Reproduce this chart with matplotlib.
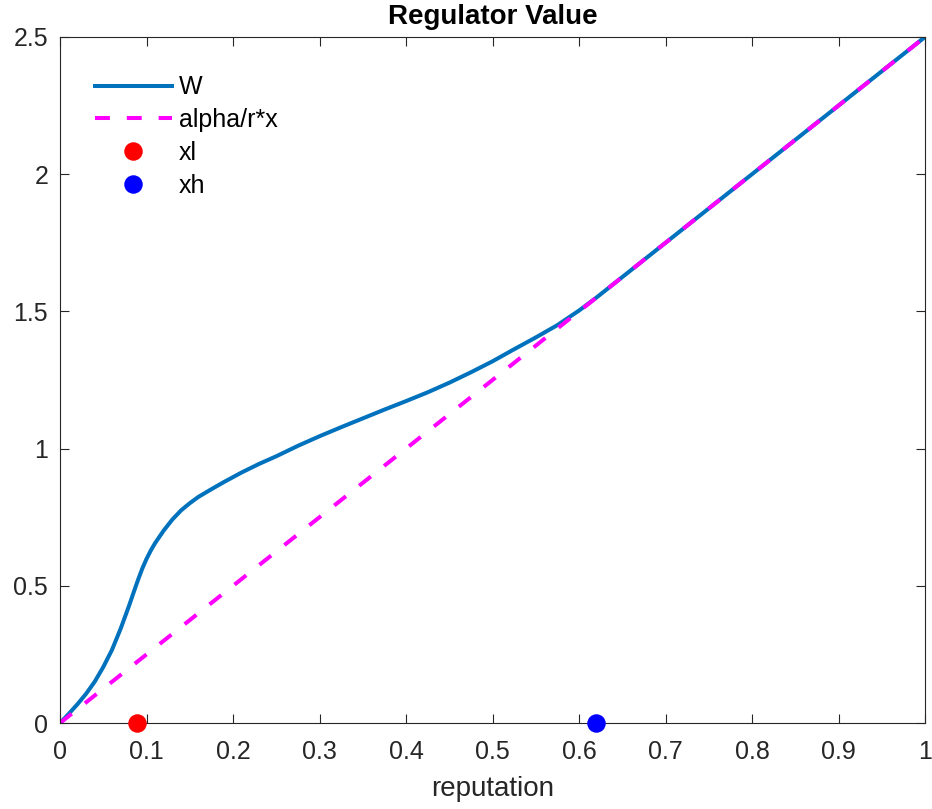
import numpy as np
import matplotlib
matplotlib.use('Agg')
import matplotlib.pyplot as plt

rep = [0, 0.01, 0.02, 0.03, 0.04, 0.05, 0.06, 0.07, 0.08, 0.085, 0.09, 0.095,
       0.10, 0.105, 0.11, 0.12, 0.13, 0.14, 0.15, 0.16, 0.175, 0.19, 0.21,
       0.23, 0.25, 0.275, 0.30, 0.325, 0.35, 0.375, 0.40, 0.425, 0.45, 0.475,
       0.50, 0.525, 0.55, 0.575, 0.60, 0.62, 1.0]
W = [0, 0.033, 0.068, 0.106, 0.150, 0.204, 0.266, 0.343, 0.429, 0.475, 0.520,
     0.562, 0.598, 0.629, 0.656, 0.702, 0.742, 0.775, 0.801, 0.824, 0.852,
     0.879, 0.913, 0.944, 0.972, 1.010, 1.045, 1.078, 1.110, 1.142, 1.173,
     1.205, 1.240, 1.278, 1.318, 1.362, 1.405, 1.450, 1.503, 1.55, 2.5]
line_x = [0, 1]
line_y = [0, 2.5]   # alpha/r * x
xl = 0.089
xh = 0.62

plt.rcParams['font.family'] = ['Liberation Sans', 'DejaVu Sans']
grey = '#262626'

fig = plt.figure(figsize=(9.32, 8.09), dpi=100)
ax = fig.add_axes([0.0644, 0.1063, 0.9281, 0.848])

ax.plot(rep, W, color='#0072BD', lw=2.9, label='W')
ax.plot(line_x, line_y, color='#FF00FF', lw=2.9, dashes=(3.7, 4.2), label='alpha/r*x')
ax.plot([xl], [0], 'o', color='#FF0000', ms=12.3, clip_on=False, zorder=5, label='xl')
ax.plot([xh], [0], 'o', color='#0000FF', ms=12.3, clip_on=False, zorder=5, label='xh')

ax.set_xlim(0, 1)
ax.set_ylim(0, 2.5)
ax.set_xticks(np.arange(0, 1.01, 0.1))
ax.set_xticklabels(['0', '0.1', '0.2', '0.3', '0.4', '0.5', '0.6', '0.7', '0.8', '0.9', '1'])
ax.set_yticks([0, 0.5, 1, 1.5, 2, 2.5])
ax.set_yticklabels(['0', '0.5', '1', '1.5', '2', '2.5'])
ax.tick_params(direction='in', length=6.5, width=0.8, color=grey, labelcolor=grey,
               labelsize=18, top=True, right=True)
ax.tick_params(axis='x', pad=12)
ax.tick_params(axis='y', pad=8.5)
for s in ax.spines.values():
    s.set_color(grey)
    s.set_linewidth(0.8)

ax.set_title('Regulator Value', fontsize=20, fontweight='bold', pad=9)
ax.set_xlabel('reputation', fontsize=20, color=grey, labelpad=9)

ax.legend(loc='upper left', bbox_to_anchor=(0.04, 0.944), frameon=False, fontsize=18,
          handlelength=3.1, handletextpad=0.28, labelspacing=0.35, borderpad=0,
          borderaxespad=0, numpoints=1)

fig.savefig('out.png', dpi=100)
